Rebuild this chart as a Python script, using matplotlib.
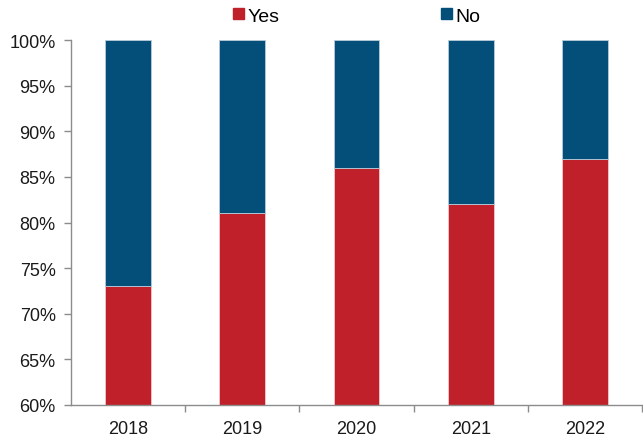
import matplotlib.pyplot as plt
from matplotlib.ticker import FixedLocator, PercentFormatter
from matplotlib.patches import Patch

plt.rcParams["font.family"] = ["Liberation Sans", "DejaVu Sans"]

years = ["2018", "2019", "2020", "2021", "2022"]
yes_pct = [73, 81, 86, 82, 87]
no_pct = [27, 19, 14, 18, 13]

red = "#C0202A"
blue = "#034F79"
axis_grey = "#8C8C8C"

fig = plt.figure(figsize=(6.43, 4.39), dpi=100)
ax = fig.add_axes([71 / 643, 33 / 439, 571 / 643, 365 / 439])

x = range(len(years))
ax.bar(x, yes_pct, width=0.4, color=red, edgecolor="#F2C9CB", linewidth=0.6)
ax.bar(x, no_pct, width=0.4, bottom=yes_pct, color=blue, edgecolor="#B9CCDA", linewidth=0.6)

ax.set_xlim(-0.5, len(years) - 0.5)
ax.set_ylim(60, 100)
ax.set_yticks(range(60, 101, 5))
ax.yaxis.set_major_formatter(PercentFormatter(decimals=0))

ax.set_xticks(list(x))
ax.set_xticklabels(years)
# small ticks between the year groups
ax.xaxis.set_minor_locator(FixedLocator([i + 0.5 for i in x]))
ax.tick_params(axis="x", which="major", length=0, pad=11)
ax.tick_params(axis="x", which="minor", length=5, width=1, color=axis_grey)
ax.tick_params(axis="y", length=5, width=1, color=axis_grey, pad=6)
ax.tick_params(labelsize=13, labelcolor="#1A1A1A")

for side in ["top", "right"]:
    ax.spines[side].set_visible(False)
for side in ["left", "bottom"]:
    ax.spines[side].set_color(axis_grey)
    ax.spines[side].set_linewidth(1)

handles = [Patch(color=red), Patch(color=blue)]
fig.legend(handles, ["Yes", "No"], loc="center", bbox_to_anchor=(357 / 643, 1 - 17 / 439),
           ncol=2, frameon=False, fontsize=14, handlelength=0.55, handleheight=0.55,
           handletextpad=0.2, columnspacing=8.3)

fig.savefig("out.png", dpi=100)
